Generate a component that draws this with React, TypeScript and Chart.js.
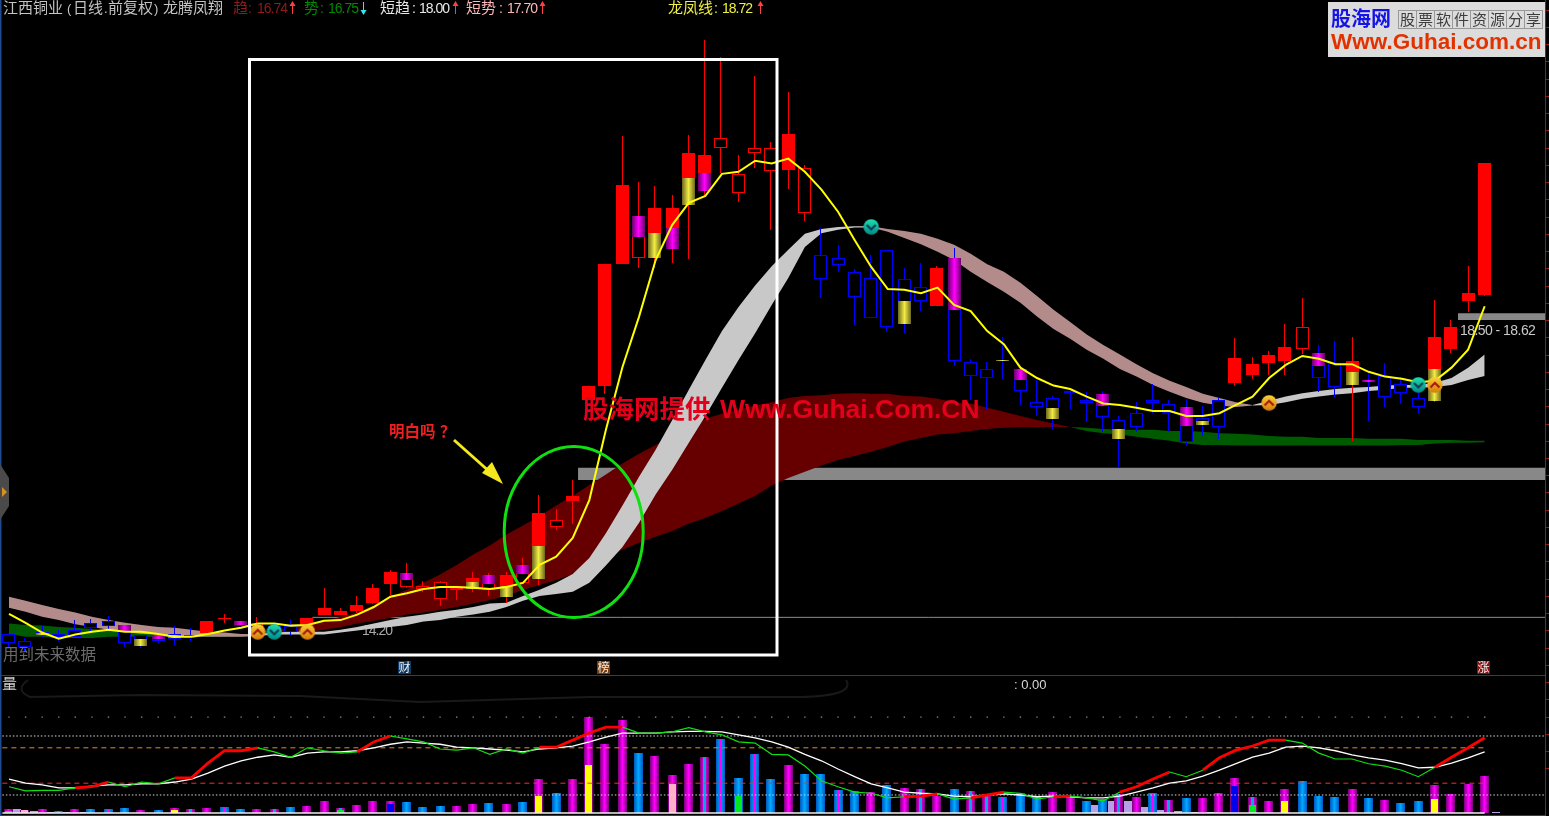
import React, { useEffect, useRef } from "react";
import { Chart, registerables } from "chart.js";

Chart.register(...registerables);

// ---------- candles (yuan) ----------
const opens = [13.95,13.85,13.98,13.95,14.00,14.11,14.13,14.08,13.93,13.93,13.95,13.94,13.97,14.17,14.13,14.04,14.06,14.06,14.07,14.23,14.23,14.28,14.40,14.68,14.63,14.60,14.46,14.58,14.60,14.58,14.49,14.69,14.75,15.50,15.88,17.34,17.55,19.31,19.40,19.40,19.53,20.17,20.37,20.99,20.34,20.92,20.66,20.68,20.05,19.44,19.40,19.20,19.11,19.52,19.10,18.98,18.70,19.40,17.89,17.79,17.92,17.79,17.31,17.37,17.47,17.34,17.43,17.05,17.15,17.34,17.29,17.24,17.08,17.34,17.59,17.71,17.88,17.91,18.08,18.02,17.88,17.56,17.63,17.69,17.57,17.37,17.33,18.08,18.78,18.87];
const closes = [13.82,13.76,13.93,13.91,13.91,14.04,14.06,13.82,13.78,13.85,13.88,13.89,14.13,14.18,14.06,14.11,14.00,13.98,14.18,14.33,14.28,14.37,14.62,14.85,14.84,14.65,14.70,14.62,14.76,14.81,14.81,14.95,15.70,15.60,15.95,17.55,19.31,20.46,20.01,20.13,20.13,20.92,20.89,21.14,20.62,20.99,20.99,21.20,20.71,19.10,19.30,18.84,18.53,18.40,18.44,18.78,19.26,17.91,17.69,17.66,17.91,17.47,17.24,17.07,17.44,17.30,17.10,16.78,16.95,17.30,17.15,16.73,16.98,16.95,17.95,17.86,18.00,18.11,18.40,17.66,17.53,17.91,17.60,17.39,17.44,17.24,18.26,18.40,18.89,20.78];
const highs = [13.95,13.89,14.07,14.00,14.15,14.17,14.21,14.08,13.94,13.94,14.06,14.03,14.13,14.24,14.13,14.20,14.10,14.17,14.18,14.62,14.33,14.50,14.68,14.87,14.98,14.72,14.72,14.65,14.85,14.84,14.85,15.05,15.97,15.76,16.18,17.55,19.31,21.17,20.50,20.44,20.31,21.18,22.56,22.31,20.89,22.04,21.08,21.81,20.75,19.83,19.59,19.24,19.44,19.52,19.26,19.33,19.29,19.55,17.94,17.89,18.26,17.83,17.63,17.40,17.47,17.46,17.47,17.11,17.31,17.57,17.34,17.36,17.26,17.37,18.24,17.97,18.05,18.44,18.82,18.14,18.20,18.26,17.73,17.88,17.68,17.63,18.79,18.50,19.29,20.78];
const lows = [13.76,13.69,13.91,13.85,13.91,13.97,14.00,13.76,13.75,13.81,13.79,13.85,13.97,14.11,14.06,14.01,13.95,13.94,14.07,14.23,14.23,14.25,14.39,14.52,14.62,14.56,14.35,14.44,14.56,14.50,14.40,14.69,14.66,15.46,15.55,17.34,17.43,19.31,19.26,19.26,19.33,19.39,20.29,20.63,20.21,20.71,19.81,20.40,19.94,18.82,19.20,18.43,18.53,18.33,18.31,18.63,18.70,17.83,17.34,17.21,17.65,17.27,17.11,16.91,17.21,17.02,16.88,16.36,16.88,17.15,16.88,16.68,16.82,16.78,17.55,17.65,17.71,17.71,18.01,17.46,17.39,16.75,17.04,17.24,17.29,17.14,17.31,18.02,18.62,18.85];
// R = filled red, H = hollow red, B = hollow blue
const bodyStyles = ("BBBBBBBBBB" + "BBRRBHBBRR" + "RRRRHHHRRH" + "RHRHRRRRHR" + "RRRHHHHRHB" + "BBBBBBRBBB" + "BBBBBBBBBB" + "BBBBRRRRHB" + "BRBBBBRRRR").split("");

const goldDays = [2,8,10,28,30,32,39,41,54,60,63,67,72,81,86];
const goldTops = [13.97,13.87,13.94,14.70,14.65,15.23,19.76,20.56,18.78,17.92,17.23,16.92,17.04,17.75,17.79];
const goldBottoms = [13.93,13.78,13.89,14.60,14.49,14.75,19.40,20.17,18.44,17.91,17.07,16.78,16.98,17.56,17.33];
const purpleDays = [7,9,14,24,29,31,38,40,42,57,61,66,71,79,82];
const purpleTops = [14.08,13.93,14.13,14.84,14.81,14.95,20.01,19.83,20.63,19.40,17.79,17.43,17.24,18.02,17.63];
const purpleBottoms = [13.98,13.88,14.08,14.73,14.68,14.82,19.71,19.53,20.37,18.65,17.63,17.26,16.97,17.83,17.60];

// ---------- yellow line 龙凤线 ----------
const dragonLine = [14.24,14.11,13.97,13.88,13.94,13.98,14.01,13.98,13.98,13.95,13.91,13.91,13.95,14.00,14.04,14.10,14.10,14.07,14.08,14.14,14.15,14.23,14.34,14.49,14.54,14.60,14.63,14.63,14.62,14.60,14.63,14.69,14.95,15.07,15.34,15.89,16.91,17.82,18.55,19.37,19.88,20.20,20.30,20.62,20.65,20.81,20.77,20.84,20.65,20.39,20.07,19.66,19.27,18.95,18.94,18.89,18.97,18.72,18.63,18.34,18.15,17.81,17.66,17.55,17.50,17.39,17.29,17.27,17.23,17.18,17.18,17.11,17.11,17.15,17.27,17.39,17.66,17.85,17.98,17.94,17.86,17.86,17.75,17.68,17.65,17.60,17.62,17.81,18.07,18.70];

// ---------- short band 短趋 / 短势 ----------
const shortUpper = [14.49,14.43,14.37,14.31,14.26,14.20,14.15,14.11,14.08,14.05,14.04,14.01,13.98,13.97,13.95,13.95,13.97,13.98,13.98,13.98,14.01,14.05,14.10,14.15,14.20,14.23,14.27,14.30,14.34,14.39,14.40,14.50,14.59,14.69,14.82,15.05,15.41,15.81,16.23,16.62,17.05,17.49,17.92,18.34,18.69,19.00,19.28,19.52,19.75,19.82,19.85,19.86,19.86,19.82,19.79,19.75,19.68,19.59,19.46,19.31,19.20,19.04,18.85,18.65,18.47,18.29,18.14,18.00,17.86,17.73,17.62,17.53,17.43,17.37,17.31,17.27,17.33,17.39,17.44,17.47,17.50,17.52,17.53,17.55,17.56,17.56,17.59,17.66,17.81,18.00];
const shortLower = [14.33,14.27,14.20,14.15,14.09,14.05,14.01,13.98,13.95,13.94,13.92,13.91,13.91,13.91,13.91,13.92,13.94,13.94,13.94,13.94,13.97,14.00,14.03,14.05,14.08,14.13,14.15,14.20,14.23,14.27,14.34,14.43,14.50,14.53,14.56,14.69,14.94,15.21,15.56,15.97,16.33,16.72,17.11,17.52,17.92,18.31,18.72,19.11,19.56,19.76,19.81,19.84,19.84,19.78,19.69,19.60,19.49,19.37,19.20,19.05,18.91,18.75,18.55,18.37,18.23,18.07,17.94,17.79,17.68,17.56,17.46,17.37,17.30,17.26,17.24,17.26,17.27,17.31,17.36,17.39,17.42,17.44,17.47,17.49,17.52,17.52,17.53,17.56,17.63,17.69];
const fallingShortRuns = [[0,15],[52,75]];
const risingShortRuns = [[15,52],[75,89]];

// ---------- long band 趋 / 势 ----------
const longUpper = [14.10,14.08,14.07,14.05,14.04,14.02,14.01,14.00,13.98,13.97,13.97,13.95,13.95,13.95,13.95,13.95,14.00,14.04,14.07,14.13,14.20,14.26,14.37,14.49,14.59,14.69,14.81,14.95,15.10,15.23,15.39,15.52,15.66,15.81,15.95,16.11,16.26,16.42,16.56,16.69,16.82,16.97,17.07,17.14,17.20,17.26,17.31,17.37,17.40,17.41,17.43,17.44,17.43,17.43,17.40,17.39,17.36,17.31,17.29,17.23,17.17,17.11,17.05,17.00,16.95,16.94,16.92,16.91,16.91,16.91,16.89,16.89,16.88,16.86,16.85,16.84,16.82,16.81,16.81,16.79,16.79,16.79,16.78,16.78,16.78,16.76,16.76,16.76,16.75,16.75];
const longLower = [13.95,13.91,13.91,13.89,13.89,13.89,13.91,13.91,13.91,13.91,13.91,13.91,13.91,13.91,13.91,13.92,13.95,13.95,13.98,14.01,14.05,14.10,14.14,14.18,14.23,14.26,14.30,14.34,14.39,14.44,14.50,14.59,14.66,14.73,14.81,14.92,15.05,15.17,15.27,15.36,15.44,15.55,15.63,15.73,15.84,15.95,16.10,16.21,16.30,16.39,16.47,16.53,16.59,16.66,16.74,16.79,16.84,16.86,16.89,16.92,16.94,16.95,16.95,16.95,16.95,16.89,16.86,16.84,16.81,16.78,16.75,16.71,16.69,16.69,16.68,16.68,16.68,16.68,16.68,16.68,16.68,16.68,16.68,16.68,16.69,16.69,16.71,16.72,16.72,16.73];
const longGreenRuns = [[0,15],[64,89]];
const longRedRuns = [[15,64]];

// ---------- price zones ----------
const zoneStarts = [34.32, 87.39];
const zoneEnds = [92.64, 92.64];
const zoneLows = [16.18, 18.50];
const zoneHighs = [16.36, 18.60];
const supportPrice = 14.19;
const supportStart = 18.3;
const supportEnd = 92.64;

// ---------- badges ----------
const upBadgeDays = [15, 18, 76, 86];
const upBadgePrices = [13.98, 13.98, 17.30, 17.56];
const downBadgeDays = [16, 52, 85];
const downBadgePrices = [13.98, 19.85, 17.56];

// ---------- volume ----------
const volumes = [4,3.5,4.5,2,4.5,4.5,4.5,5.5,3.5,3.5,5.5,4.5,5.5,6.5,4.5,4.5,4.5,6.5,7.5,12.5,5.5,8.5,12.5,12.5,11.5,6.5,7.5,7.5,9.5,10.5,9.5,11.5,34,20,34,96,69,93,60,57,38,49,56,74,35,59,34,48,39,39,23,22,21,28,25,24,17,24,22,18,16,20,16,21,16,12,14,19,16,20,13,15,15,20,35,16,12,24,32,17,16,24,15,13,10,12,28,19,29,37];
const volumeKinds = ("MMMBMBBBMB" + "MMMBBMMBMM" + "MMMMBBBMMB" + "MBMBMMMMBM" + "MMMBBBBMBB" + "BBMBMMMBMM" + "BBBMMBBMMB" + "MBMMMMMMBB" + "BMBMBBMMMM").split("");
const cyanStripeDays = [11,16,20,42,55,58,59,67,70,75];
const magentaStripeDays = [6,13,43,45,50,60,69];
const yellowDays = [10,32,35,77,86];
const yellowVolumes = [3,17,48,12,14];
const pinkDays = [1,40];
const pinkVolumes = [3.5,29];
const greenDays = [0,20,44,75];
const greenVolumes = [2,3,17,8];
const deepBlueDays = [23,74];
const deepBlueVolumes = [9.5,27];
const lilacDays = [0.5,1.5,2.5,3.5,4.5,65.5,66.5,67.5,68.5,69.5,70.5,71.5,72.5,89.7];
const lilacVolumes = [4,2,1,1,1,8,12,12,6,3,2,1,1,1];

// ---------- oscillator ----------
const slowLine = [27,20,17,12,12,15,17,17,19,19,22,27,37,49,58,64,68,64,71,73,73,75,80,86,90,88,86,81,80,78,76,73,78,80,83,90,98,105,105,105,107,108,108,107,102,97,90,81,69,58,44,31,19,12,5,3,2,-2,-3,0,2,0,-3,-2,-3,-5,-5,-2,5,12,20,24,32,42,53,64,71,81,83,80,75,68,63,59,53,46,47,54,63,73];
const fastLine = [14,7,8,8,12,14,22,14,22,19,29,29,54,75,75,80,73,64,80,75,71,73,90,100,95,90,78,76,80,69,78,71,81,81,93,105,115,115,105,105,107,114,107,102,90,88,69,68,49,24,14,5,3,-5,-3,-2,2,-7,-5,0,5,3,-7,-3,-2,-5,-10,5,14,27,39,31,42,63,76,83,93,93,88,71,61,61,53,49,42,31,47,64,80,97];
const fastRedRuns = [[4,6],[10,15],[21,23],[32,37],[54,56],[58,60],[63,64],[67,70],[72,77],[86,89]];
const levelValues = [100, 80, 20, 0];
const levelColors = ["#d8d8d8", "#e88a20", "#ff2a2a", "#d8d8d8"];
const levelEnds = [92.64, 89, 89, 92.64];
const dotRowValue = 132;

// ---------- scale ranges ----------
const X_MIN = -0.543, X_MAX = 92.88;
const PRICE_MIN = 11.31, PRICE_MAX = 23.14;
const VOL_MIN = -3, VOL_MAX = 813;
const OSC_MIN = -35.6, OSC_MAX = 1347.5;

const days = opens.map((_, i) => i);
const CJK = '"Noto Sans CJK SC"';
const GOLD = ["#6d6820", "#f2ec42", "#6d6820"];
const PURPLE = ["#6a006a", "#ff00ff", "#6a006a"];
const VIOLET = ["#7a007a", "#ff00ff", "#7a007a"];
const AZURE = ["#0058c0", "#00a8ff", "#0058c0"];

// thin marks sit on even pixel columns so they stay saturated
const snapColumn = (px: number) => {
  let col = Math.floor(px);
  if (col % 2) col -= 1;
  return col + 0.5;
};

const gradientFill = (stops: string[], width: number) => (c: any) => {
  if (!c.parsed || !c.chart.scales.x) return stops[1];
  const px = c.chart.scales.x.getPixelForValue(c.parsed.x);
  if (!Number.isFinite(px)) return stops[1];
  const cx = snapColumn(px);
  const g = c.chart.ctx.createLinearGradient(cx - width / 2, 0, cx + width / 2, 0);
  g.addColorStop(0, stops[0]);
  g.addColorStop(0.5, stops[1]);
  g.addColorStop(1, stops[2]);
  return g;
};

const barSet = (data: any[], width: number, fill: any, order: number, axis: string, border?: string) => ({
  type: "bar",
  data,
  yAxisID: axis,
  grouped: false,
  barThickness: width,
  backgroundColor: fill,
  borderColor: border || "rgba(0,0,0,0)",
  borderWidth: border ? 1 : 0,
  borderSkipped: false,
  inflateAmount: 0,
  order,
});

const lineSet = (data: any[], color: string, width: number, order: number, axis: string, extra: any = {}) => ({
  type: "line",
  data,
  yAxisID: axis,
  borderColor: color,
  borderWidth: width,
  pointRadius: 0,
  tension: 0,
  fill: false,
  order,
  ...extra,
});

const bandSets = (upper: number[], lower: number[], runs: number[][], color: string, order: number) =>
  runs.flatMap(([a, b]) => {
    const range = days.slice(a, b + 1);
    return [
      lineSet(range.map((d) => ({ x: d, y: upper[d] })), color, 0, order, "y", { fill: { target: "+1", above: color, below: color } }),
      lineSet(range.map((d) => ({ x: d, y: lower[d] })), color, 0, order, "y"),
    ];
  });

const makeBadge = (up: boolean) => {
  const c = document.createElement("canvas");
  c.width = 16;
  c.height = 16;
  const g = c.getContext("2d") as CanvasRenderingContext2D;
  const grad = g.createLinearGradient(0, 0, 0, 16);
  grad.addColorStop(0, up ? "#ffd23a" : "#1fe0b0");
  grad.addColorStop(1, up ? "#d47a08" : "#008a88");
  g.fillStyle = grad;
  g.beginPath();
  g.arc(8, 8, 7.7, 0, Math.PI * 2);
  g.fill();
  g.strokeStyle = up ? "#a81c10" : "#123c58";
  g.lineWidth = 2.2;
  g.beginPath();
  if (up) {
    g.moveTo(3.5, 10.5); g.lineTo(8, 6); g.lineTo(12.5, 10.5);
  } else {
    g.moveTo(3.5, 6); g.lineTo(8, 10.5); g.lineTo(12.5, 6);
  }
  g.stroke();
  return c;
};

const snapBars = {
  id: "snapBars",
  afterDatasetsUpdate(chart: any) {
    chart.data.datasets.forEach((_: any, i: number) => {
      const meta = chart.getDatasetMeta(i);
      if (meta.type !== "bar") return;
      meta.data.forEach((el: any) => {
        const odd = Math.round(el.width) % 2 === 1;
        el.x = odd ? snapColumn(el.x) : Math.round(el.x);
        el.y = Math.round(el.y);
        el.base = Math.round(el.base);
        if (el.y === el.base) el.base = el.y + 1;
      });
    });
  },
};

const txt = (c: CanvasRenderingContext2D, s: string, x: number, y: number, color: string, font: string, spacing = "0px") => {
  c.fillStyle = color;
  c.font = font;
  (c as any).letterSpacing = spacing;
  c.fillText(s, x, y);
  (c as any).letterSpacing = "0px";
};

const arrow = (c: CanvasRenderingContext2D, x: number, up: boolean, color: string) => {
  c.strokeStyle = color;
  c.fillStyle = color;
  c.lineWidth = 1;
  c.beginPath();
  c.moveTo(x, 2);
  c.lineTo(x, 14);
  c.stroke();
  c.beginPath();
  const tip = up ? 1 : 15;
  const back = up ? 6 : 10;
  c.moveTo(x, tip);
  c.lineTo(x - 3, back);
  c.lineTo(x + 3, back);
  c.fill();
};

const backdrop = {
  id: "backdrop",
  beforeDatasetsDraw(chart: any) {
    const c = chart.ctx as CanvasRenderingContext2D;
    c.save();
    c.fillStyle = "#000";
    c.fillRect(0, 0, chart.width, chart.height);
    txt(c, "14.20", 362, 635, "#a8a8a8", "14px 'Liberation Sans'", "-1px");
    c.restore();
  },
};

const overlay = {
  id: "overlay",
  afterDatasetsDraw(chart: any) {
    const c = chart.ctx as CanvasRenderingContext2D;
    c.save();
    c.textBaseline = "alphabetic";
    const num = "13px 'Liberation Sans'";
    const val = "14px 'Liberation Sans'";
    const cjk = `15px ${CJK}`;
    // header
    const head = "#c4c4c4";
    txt(c, "江西铜业", 3, 13, head, cjk);
    txt(c, "(", 67, 13, head, num);
    txt(c, "日线", 73, 13, head, cjk);
    txt(c, ".", 104, 13, head, num);
    txt(c, "前复权", 108, 13, head, cjk);
    txt(c, ")", 154, 13, head, num);
    txt(c, "龙腾凤翔", 163, 13, head, cjk);
    const entry = (label: string, lx: number, colon: number, value: string, vx: number, color: string) => {
      txt(c, label, lx, 13, color, cjk);
      txt(c, ":", colon, 13, color, val);
      txt(c, value, vx, 13, color, val, "-1px");
    };
    entry("趋", 233, 248, "16.74", 257, "#8f1c1c");
    arrow(c, 292.5, true, "#ff4040");
    entry("势", 304, 320, "16.75", 328, "#008a00");
    arrow(c, 363.5, false, "#30e8f0");
    entry("短趋", 380, 412, "18.00", 419, "#e8e8e8");
    arrow(c, 455.5, true, "#ff4040");
    entry("短势", 466, 499, "17.70", 507, "#ffb8b8");
    arrow(c, 542.5, true, "#ff4040");
    entry("龙凤线", 668, 714, "18.72", 722, "#f0f040");
    arrow(c, 760.5, true, "#ff4040");
    // logo
    c.fillStyle = "#dcdcdc";
    c.fillRect(1328, 2, 218, 55);
    txt(c, "股海网", 1331, 26, "#1414e6", `bold 20px ${CJK}`);
    c.strokeStyle = "#999";
    c.lineWidth = 1;
    "股票软件资源分享".split("").forEach((ch, i) => {
      c.strokeRect(1398.5 + i * 18, 10.5, 18, 18);
      txt(c, ch, 1400 + i * 18, 25, "#3c3c3c", `15px ${CJK}`);
    });
    txt(c, "Www.Guhai.com.cn", 1331, 49, "#e23200", "bold 22.5px 'Liberation Sans'");
    // frames of the panes
    c.fillStyle = "#a01414";
    c.fillRect(0, 675, 1546, 1);
    c.fillRect(0, 815, 1546, 1);
    c.fillRect(1545, 0, 1, 816);
    const py = chart.scales.y;
    for (let p = 12; p < 23.2; p += 0.25) {
      c.fillRect(1545, Math.round(py.getPixelForValue(p)), 4, 1);
    }
    c.fillStyle = "#1f4a90";
    c.fillRect(0, 0, 1.5, 816);
    // left tab
    c.fillStyle = "#4a4a4a";
    c.beginPath();
    c.moveTo(0, 464); c.lineTo(9, 478); c.lineTo(9, 506); c.lineTo(0, 520);
    c.fill();
    c.fillStyle = "#d89020";
    c.beginPath();
    c.moveTo(2, 487); c.lineTo(7, 492); c.lineTo(2, 497);
    c.fill();
    // erased tooltip outline
    c.strokeStyle = "#191919";
    c.lineWidth = 2;
    c.beginPath();
    c.moveTo(28, 680);
    c.quadraticCurveTo(14, 690, 30, 697);
    c.lineTo(140, 695); c.lineTo(300, 696); c.lineTo(420, 702); c.lineTo(590, 697);
    c.lineTo(800, 697); c.quadraticCurveTo(856, 696, 846, 680);
    c.stroke();
    // pane labels
    txt(c, "量", 2, 689, "#d0d0d0", `15px ${CJK}`);
    txt(c, ": 0.00", 1014, 689, "#d8d8d8", num);
    txt(c, "用到未来数据", 3, 660, "#6c6c6c", `15.5px ${CJK}`);
    txt(c, "18.50 - 18.62", 1460, 335, "#c8c8c8", val, "-0.55px");
    // date tags
    const tag = (s: string, x: number, bg: string) => {
      c.fillStyle = bg;
      c.fillRect(x, 661, 13, 13);
      txt(c, s, x + 0.5, 672, "#f0f0f0", `12px ${CJK}`);
    };
    tag("财", 398, "#0c3a68");
    tag("榜", 597, "#7a3c08");
    tag("涨", 1477, "#8a1010");
    // annotation frame
    c.strokeStyle = "#ffffff";
    c.lineWidth = 3;
    c.strokeRect(249.5, 59.5, 527.5, 595.5);
    c.strokeStyle = "#10e010";
    c.lineWidth = 3;
    c.beginPath();
    c.ellipse(573.7, 532, 69.5, 85.5, 0, 0, Math.PI * 2);
    c.stroke();
    // arrow
    c.strokeStyle = "#f4e820";
    c.lineWidth = 3;
    c.beginPath();
    c.moveTo(454, 440);
    c.lineTo(491, 473);
    c.stroke();
    c.fillStyle = "#f4e820";
    c.beginPath();
    c.moveTo(503, 484); c.lineTo(482, 473); c.lineTo(492, 462);
    c.fill();
    txt(c, "明白吗", 389, 437, "#f02020", `bold 15.5px ${CJK}`);
    txt(c, "？", 440, 437, "#f02020", `bold 15.5px ${CJK}`);
    // watermark
    txt(c, "股海网提供", 583, 418, "#e4001a", `bold 25.5px ${CJK}`);
    txt(c, "Www.Guhai.Com.CN", 720, 418, "#e4001a", "bold 26.5px 'Liberation Sans'");
    c.restore();
  },
};

const buildDatasets = () => {
  const ds: any[] = [];
  // zones and support
  zoneStarts.forEach((start, i) => {
    ds.push(lineSet([{ x: start, y: zoneHighs[i] }, { x: zoneEnds[i], y: zoneHighs[i] }], "#888", 0, 200, "y", { fill: { target: "+1", above: "#888888", below: "#888888" } }));
    ds.push(lineSet([{ x: start, y: zoneLows[i] }, { x: zoneEnds[i], y: zoneLows[i] }], "#888", 0, 200, "y"));
  });
  ds.push(lineSet([{ x: supportStart, y: supportPrice }, { x: supportEnd, y: supportPrice }], "#8c8c8c", 1, 199, "y"));
  // bands
  ds.push(...bandSets(longUpper, longLower, longGreenRuns, "#005a00", 190));
  ds.push(...bandSets(longUpper, longLower, longRedRuns, "#660000", 190));
  ds.push(...bandSets(shortUpper, shortLower, fallingShortRuns, "#b38b8b", 180));
  ds.push(...bandSets(shortUpper, shortLower, risingShortRuns, "#c8c8c8", 180));
  // wicks
  const isBlue = (d: number) => bodyStyles[d] === "B";
  ds.push(barSet(days.filter((d) => !isBlue(d)).map((d) => ({ x: d, y: [lows[d], highs[d]] })), 1, "#ff0000", 170, "y"));
  ds.push(barSet(days.filter(isBlue).map((d) => ({ x: d, y: [lows[d], highs[d]] })), 1, "#0000ff", 170, "y"));
  // bodies
  const body = (kind: string) => days.filter((d) => bodyStyles[d] === kind).map((d) => ({ x: d, y: [opens[d], closes[d]] }));
  ds.push(barSet(body("R"), 13, "#ff0000", 160, "y"));
  ds.push(barSet(body("H"), 13, "#000000", 160, "y", "#ff0000"));
  ds.push(barSet(body("B"), 13, "#000000", 160, "y", "#0000ff"));
  // body highlights
  ds.push(barSet(goldDays.map((d, i) => ({ x: d, y: [goldBottoms[i], goldTops[i]] })), 13, gradientFill(GOLD, 13), 150, "y"));
  ds.push(barSet(purpleDays.map((d, i) => ({ x: d, y: [purpleBottoms[i], purpleTops[i]] })), 13, gradientFill(PURPLE, 13), 150, "y"));
  // dragon line and badges
  ds.push(lineSet(days.map((d) => ({ x: d, y: dragonLine[d] })), "#ffff00", 2, 140, "y"));
  const upIcon = makeBadge(true);
  const downIcon = makeBadge(false);
  ds.push(lineSet(upBadgeDays.map((d, i) => ({ x: d, y: upBadgePrices[i] })), "#fa0", 0, 130, "y", { showLine: false, pointStyle: upIcon, pointRadius: 8 }));
  ds.push(lineSet(downBadgeDays.map((d, i) => ({ x: d, y: downBadgePrices[i] })), "#0a8", 0, 130, "y", { showLine: false, pointStyle: downIcon, pointRadius: 8 }));
  // volume
  const volumeOf = (kind: string) => days.filter((d) => volumeKinds[d] === kind).map((d) => ({ x: d, y: volumes[d] }));
  ds.push(barSet(lilacDays.map((d, i) => ({ x: d, y: lilacVolumes[i] })), 8, "#b8a0e8", 125, "yv"));
  ds.push(barSet(volumeOf("M"), 9, gradientFill(VIOLET, 9), 120, "yv"));
  ds.push(barSet(volumeOf("B"), 9, gradientFill(AZURE, 9), 120, "yv"));
  ds.push(barSet(cyanStripeDays.map((d) => ({ x: d, y: volumes[d] })), 3, "#00a8e8", 110, "yv"));
  ds.push(barSet(magentaStripeDays.map((d) => ({ x: d, y: volumes[d] })), 3, "#ff00ff", 110, "yv"));
  ds.push(barSet(yellowDays.map((d, i) => ({ x: d, y: yellowVolumes[i] })), 7, "#ffff00", 100, "yv"));
  ds.push(barSet(pinkDays.map((d, i) => ({ x: d, y: pinkVolumes[i] })), 7, "#ffb0c8", 100, "yv"));
  ds.push(barSet(greenDays.map((d, i) => ({ x: d, y: greenVolumes[i] })), 7, "#00e820", 100, "yv"));
  ds.push(barSet(deepBlueDays.map((d, i) => ({ x: d, y: deepBlueVolumes[i] })), 7, "#0000f0", 100, "yv"));
  ds.push(lineSet([{ x: -0.4, y: 0 }, { x: 89, y: 0 }], "#f0f0f0", 1.5, 95, "yv"));
  // oscillator levels
  levelValues.forEach((v, i) => {
    const dotted = i === 0 || i === 3;
    ds.push(lineSet([{ x: -0.4, y: v }, { x: levelEnds[i], y: v }], levelColors[i], 1, 90, "yo", { borderDash: dotted ? [1.5, 2] : [5, 4] }));
  });
  ds.push(lineSet(days.map((d) => ({ x: d, y: dotRowValue })), "#808080", 0, 90, "yo", { showLine: false, pointStyle: "rect", pointRadius: 1, pointBackgroundColor: "#808080", pointBorderWidth: 0 }));
  // oscillator lines
  ds.push(lineSet(days.map((d) => ({ x: d, y: slowLine[d] })), "#ffffff", 1.3, 80, "yo"));
  const isRed = (i: number) => fastRedRuns.some(([a, b]) => i >= a && i < b);
  ds.push(lineSet(days.map((d) => ({ x: d, y: fastLine[d] })), "#10e010", 1.2, 70, "yo", {
    segment: {
      borderColor: (s: any) => (isRed(s.p0DataIndex) ? "#ff0000" : "#10e010"),
      borderWidth: (s: any) => (isRed(s.p0DataIndex) ? 2.8 : 1.2),
    },
  }));
  return ds;
};

export default function App() {
  const ref = useRef<HTMLCanvasElement | null>(null);
  useEffect(() => {
    document.body.style.margin = "0";
    document.body.style.background = "#000";
    const chart = new Chart(ref.current as HTMLCanvasElement, {
      type: "line",
      data: { datasets: buildDatasets() },
      plugins: [backdrop, snapBars, overlay],
      options: {
        animation: false,
        responsive: false,
        devicePixelRatio: 1,
        events: [],
        layout: { padding: 0, autoPadding: false },
        plugins: { legend: { display: false }, tooltip: { enabled: false }, title: { display: false } },
        scales: {
          x: { type: "linear", display: false, min: X_MIN, max: X_MAX, offset: false },
          y: { type: "linear", display: false, min: PRICE_MIN, max: PRICE_MAX },
          yv: { type: "linear", display: false, min: VOL_MIN, max: VOL_MAX },
          yo: { type: "linear", display: false, min: OSC_MIN, max: OSC_MAX },
        },
      },
    } as any);
    return () => chart.destroy();
  }, []);
  return <canvas ref={ref} width={1549} height={816} style={{ position: "fixed", left: 0, top: 0, display: "block" }} />;
}
